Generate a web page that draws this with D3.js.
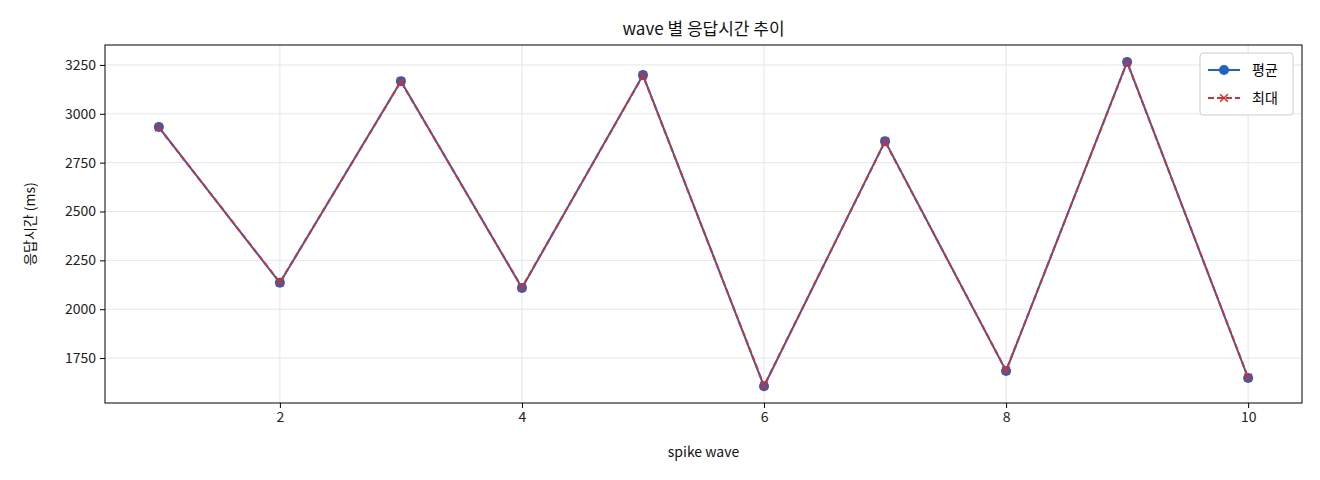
<!DOCTYPE html>
<html>
<head>
<meta charset="utf-8">
<script src="https://cdnjs.cloudflare.com/ajax/libs/d3/7.8.5/d3.min.js"></script>
<style>
body { margin: 0; background: #fff; font-family: "Noto Sans CJK KR", "DejaVu Sans", sans-serif; }
</style>
</head>
<body>
<svg id="chart" width="1320" height="480"></svg>
<script>
var waves = [1, 2, 3, 4, 5, 6, 7, 8, 9, 10];
var avgMs = [2932, 2135, 3167, 2109, 3198, 1606, 2860, 1684, 3265, 1648];
var maxMs = [2930, 2137, 3165, 2111, 3196, 1608, 2858, 1686, 3263, 1650];
var xTicks = [2, 4, 6, 8, 10];
var yTicks = [1750, 2000, 2250, 2500, 2750, 3000, 3250];

var svg = d3.select("#chart");
var pL = 105, pR = 1302, pT = 45, pB = 403;

var x = d3.scaleLinear().domain([0.555, 10.445]).range([pL, pR]);
var y = d3.scaleLinear().domain([1520, 3352]).range([pB, pT]);

// grid
svg.append("g").selectAll("line").data(xTicks).join("line")
    .attr("x1", d => x(d)).attr("x2", d => x(d)).attr("y1", pT).attr("y2", pB)
    .attr("stroke", "#e6e6e6");
svg.append("g").selectAll("line").data(yTicks).join("line")
    .attr("x1", pL).attr("x2", pR).attr("y1", d => y(d)).attr("y2", d => y(d))
    .attr("stroke", "#e6e6e6");

var xAxis = svg.append("g").attr("transform", "translate(0," + pB + ")")
    .call(d3.axisBottom(x).tickValues(xTicks).tickSize(5).tickPadding(4));
var yAxis = svg.append("g").attr("transform", "translate(" + pL + ",0)")
    .call(d3.axisLeft(y).tickValues(yTicks).tickFormat(d3.format("d")).tickSize(5).tickPadding(4));
[xAxis, yAxis].forEach(function(a) {
    a.select(".domain").remove();
    a.selectAll("text").attr("font-size", 14).attr("fill", "#222")
        .attr("font-family", "Noto Sans CJK KR, DejaVu Sans");
});

svg.append("rect").attr("x", pL).attr("y", pT).attr("width", pR - pL).attr("height", pB - pT)
    .attr("fill", "none").attr("stroke", "#000").attr("stroke-width", 1);

var line = d3.line().x((d, i) => x(waves[i])).y(d => y(d));

svg.append("path").datum(avgMs).attr("d", line).attr("fill", "none")
    .attr("stroke", "#1f63c4").attr("stroke-width", 2);
svg.append("g").selectAll("circle").data(avgMs).join("circle")
    .attr("cx", (d, i) => x(waves[i])).attr("cy", d => y(d)).attr("r", 5).attr("fill", "#1f63c4");

svg.append("path").datum(maxMs).attr("d", line).attr("fill", "none")
    .attr("stroke", "#d62f2f").attr("stroke-width", 2).attr("stroke-dasharray", "6,3");
svg.append("g").selectAll("path").data(maxMs).join("path")
    .attr("d", d3.symbol(d3.symbolX, 40))
    .attr("transform", (d, i) => "translate(" + x(waves[i]) + "," + y(d) + ")")
    .attr("stroke", "#d62f2f").attr("stroke-width", 1.5).attr("fill", "#d62f2f");

// title and labels
svg.append("text").attr("x", (pL + pR) / 2).attr("y", 35).attr("text-anchor", "middle")
    .attr("font-size", 17).attr("fill", "#111").text("wave 별 응답시간 추이");
svg.append("text").attr("x", (pL + pR) / 2).attr("y", 457).attr("text-anchor", "middle")
    .attr("font-size", 14).attr("fill", "#111").text("spike wave");
svg.append("text").attr("transform", "translate(35," + ((pT + pB) / 2) + ") rotate(-90)")
    .attr("text-anchor", "middle").attr("font-size", 14).attr("fill", "#111").text("응답시간 (ms)");

// legend
var lg = svg.append("g").attr("transform", "translate(1200,53)");
lg.append("rect").attr("width", 93).attr("height", 62).attr("rx", 3)
    .attr("fill", "#fff").attr("stroke", "#ccc");
lg.append("line").attr("x1", 8).attr("x2", 40).attr("y1", 17).attr("y2", 17)
    .attr("stroke", "#1f63c4").attr("stroke-width", 2);
lg.append("circle").attr("cx", 24).attr("cy", 17).attr("r", 5).attr("fill", "#1f63c4");
lg.append("text").attr("x", 52).attr("y", 22).attr("font-size", 14).text("평균");
lg.append("line").attr("x1", 8).attr("x2", 40).attr("y1", 45).attr("y2", 45)
    .attr("stroke", "#d62f2f").attr("stroke-width", 2).attr("stroke-dasharray", "6,3");
lg.append("path").attr("d", d3.symbol(d3.symbolX, 40)).attr("transform", "translate(24,45)")
    .attr("stroke", "#d62f2f").attr("stroke-width", 1.5);
lg.append("text").attr("x", 52).attr("y", 50).attr("font-size", 14).text("최대");
</script>
</body>
</html>
